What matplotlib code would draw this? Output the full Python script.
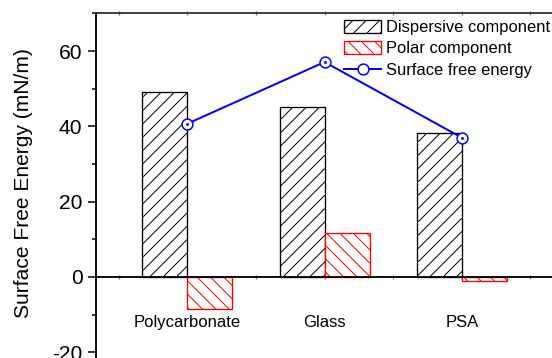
import matplotlib
matplotlib.use("Agg")
import matplotlib.pyplot as plt
from matplotlib.ticker import MultipleLocator, FixedLocator
import numpy as np

# --- data ---
materials = ["Polycarbonate", "Glass", "PSA"]
dispersive = [49.1, 45.2, 38.3]
polar = [-8.5, 11.7, -1.1]
total_sfe = [40.7, 57.1, 37.0]

plt.rcParams.update({
    "font.family": ["Liberation Sans", "DejaVu Sans"],
    "hatch.linewidth": 0.6,
    "axes.unicode_minus": False,
})

DPI = 120
fig = plt.figure(figsize=(552 / DPI, 358 / DPI), dpi=DPI, facecolor="white")
# axes reaches past the bottom/right edge of the canvas, like the original crop
ax = fig.add_axes([95.8 / 552, 1 - 389.8 / 358, 457.5 / 552, 376.3 / 358])

x = np.arange(1, len(materials) + 1)
w = 0.328

b1 = ax.bar(x - w, dispersive, width=w, align="edge", facecolor="white",
            edgecolor="black", hatch="///", linewidth=0.8,
            label="Dispersive component", zorder=2)
b2 = ax.bar(x, polar, width=w, align="edge", facecolor="white",
            edgecolor="red", hatch="\\\\\\", linewidth=0.8,
            label="Polar component", zorder=2)
ln, = ax.plot(x, total_sfe, color="blue", linewidth=1.2, marker="o",
              markersize=6.5, markerfacecolor="white", markeredgecolor="blue",
              markeredgewidth=0.9, label="Surface free energy", zorder=4)
ax.plot(x, total_sfe, linestyle="none", marker=".", markersize=1.5,
        color="blue", zorder=5)

ax.set_xlim(1 / 3, 11 / 3)
ax.set_ylim(-30, 70)

# spines
ax.spines["bottom"].set_position(("data", 0))
for s in ("left", "bottom"):
    ax.spines[s].set_linewidth(1.1)
    ax.spines[s].set_color("black")
ax.spines["top"].set_linewidth(1.1)
ax.spines["top"].set_color("#333333")
ax.spines["right"].set_visible(False)

# y ticks
ax.yaxis.set_major_locator(MultipleLocator(20))
ax.yaxis.set_minor_locator(MultipleLocator(10))
ax.tick_params(axis="y", which="major", direction="out", length=4.8,
               width=0.9, labelsize=12.6, pad=3.2)
ax.tick_params(axis="y", which="minor", direction="out", length=2.4, width=0.9)

# x ticks (on the zero line)
ax.xaxis.set_major_locator(FixedLocator(x))
ax.xaxis.set_minor_locator(FixedLocator(np.arange(0.5, 4, 1)))
ax.set_xticklabels(materials)
ax.tick_params(axis="x", which="both", direction="inout", length=2.5,
               width=0.8, color="#777777", labelsize=10, pad=21.5,
               top=True)

ax.set_ylabel("Surface Free Energy (mN/m)", fontsize=12.6)
ax.yaxis.label.set_verticalalignment("center")
ax.yaxis.set_label_coords(-0.159, 0.5496)

ax.legend(handles=[b1, b2, ln], loc="upper left",
          bbox_to_anchor=(344 / 552, 1 - 20 / 358),
          bbox_transform=fig.transFigure, frameon=False, fontsize=9.9,
          handlelength=2.25, handleheight=0.8, handletextpad=0.32,
          labelspacing=0.38, borderaxespad=0, borderpad=0)

fig.savefig("out.png", dpi=DPI, facecolor="white")
